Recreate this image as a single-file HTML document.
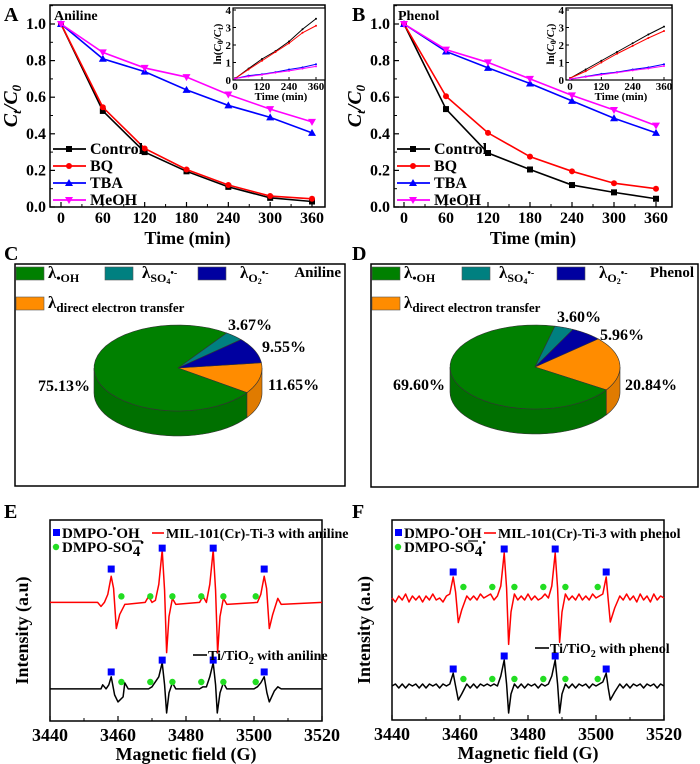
<!DOCTYPE html>
<html><head><meta charset="utf-8"><style>
html,body{margin:0;padding:0;background:#fff}
svg{display:block;font-family:"Liberation Serif",serif;font-weight:bold}
</style></head><body>
<svg id="fig" width="700" height="764" viewBox="0 0 700 764" xmlns="http://www.w3.org/2000/svg">
<g font-size="20">
<text x="4" y="21">A</text>
<text x="352" y="21">B</text>
<text x="4" y="260">C</text>
<text x="352" y="260">D</text>
<text x="4" y="518">E</text>
<text x="352" y="518">F</text>
</g>
</svg>
<script>
// ---------- data ----------
const times = [0,60,120,180,240,300,360];
const timeTicks = [0,60,120,180,240,300,360];
const ctTicks = [0,0.2,0.4,0.6,0.8,1.0];
const insetTimeTicks = [0,120,240,360];
const insetYTicks = [0,1,2,3,4];
const seriesNames = ["Control","BQ","TBA","MeOH"];
const aControl = [1,0.525,0.30,0.195,0.11,0.05,0.03];
const aBQ = [1,0.545,0.32,0.205,0.12,0.06,0.045];
const aTBA = [1,0.81,0.74,0.64,0.555,0.49,0.405];
const aMeOH = [1,0.845,0.76,0.71,0.615,0.535,0.465];
const bControl = [1,0.535,0.295,0.205,0.12,0.08,0.045];
const bBQ = [1,0.605,0.405,0.275,0.195,0.13,0.10];
const bTBA = [1,0.85,0.76,0.675,0.58,0.485,0.405];
const bMeOH = [1,0.86,0.79,0.70,0.61,0.53,0.445];
const aLnControl = [0.08,0.65,1.2,1.65,2.2,2.9,3.5];
const aLnBQ = [0.08,0.6,1.1,1.6,2.1,2.7,3.1];
const aLnTBA = [0.08,0.25,0.33,0.45,0.6,0.72,0.9];
const aLnMeOH = [0.08,0.2,0.3,0.42,0.52,0.65,0.78];
const bLnControl = [0.1,0.6,1.1,1.6,2.1,2.6,3.05];
const bLnBQ = [0.1,0.5,1.0,1.5,1.95,2.4,2.8];
const bLnTBA = [0.05,0.2,0.35,0.45,0.6,0.72,0.9];
const bLnMeOH = [0.05,0.18,0.3,0.42,0.55,0.66,0.8];
const pieLabels = ["direct electron transfer","OH","SO4","O2"];
const pieC = [11.65,75.13,3.67,9.55];
const pieD = [20.84,69.60,3.60,5.96];
const fieldTicks = [3440,3460,3480,3500,3520];
const fieldMinor = [3450,3470,3490,3510];
const eRedF = [3440,3454,3455,3456,3457,3458,3458.7,3459.5,3460.5,3462,3468,3469,3470,3471,3472,3473,3473.7,3474.3,3475,3476,3477,3484,3485,3486,3487,3488,3488.7,3489.3,3490,3491,3492,3501,3502,3503,3503.7,3504.5,3505.5,3507,3508,3520];
const eRedI = [59,59,57,59,63,72,66,46,53,58,59,62,59,60,68,85,65,34,52,61,58,59,62,59,68,85,65,34,52,61,58,59,63,72,66,46,53,61,58,59];
const eBlkF = [3440,3455,3455.5,3456.5,3457.3,3458,3459,3460,3461.5,3462,3463,3469,3470,3472,3473,3473.7,3474.3,3475,3476,3477,3484,3485,3486,3487,3488,3488.7,3489.2,3490,3491,3492,3500,3501,3502,3503,3503.8,3504.5,3506,3507,3508,3520];
const eBlkI = [16,16,18,16,18,22,13,9.5,12,19,16,16,17,22,29,18,4,14,19,16,16,17,17,22,29,18,4,14,19,16,16,17,19,22,14,9.5,15,17,16,16];
const fRedF = [3440,3441,3442,3443,3444,3445,3446,3447,3448,3449,3450,3451,3452,3453,3454,3455,3456,3457,3458,3458.7,3459.5,3460.5,3462,3463,3464,3465,3466,3467,3468,3469,3470,3471,3472,3473,3473.7,3474.3,3475,3476,3477,3478,3479,3480,3481,3482,3483,3484,3485,3486,3487,3488,3488.7,3489.3,3490,3491,3492,3493,3494,3495,3496,3497,3498,3499,3500,3501,3502,3503,3503.6,3504.2,3505.5,3507,3508,3509,3510,3511,3512,3513,3514,3515,3516,3517,3518,3519,3520];
const fRedI = [61,59,62,60,63,59,62,60,62,59,62,60,63,60,61,59,62,63,71.5,64,48.7,55,62,60,62,60,63,61,62,63,60,62,67,83.5,66,37.8,54,63,60,62,60,63,60,62,60,61,63,61,67,83.5,66,38.8,54,63,60,62,60,63,60,62,60,63,61,62,63,71.5,60,49,56,62,60,63,60,62,59,63,60,62,59,63,60,62,61];
const fBlkF = [3440,3441,3442,3443,3444,3445,3446,3447,3448,3449,3450,3451,3452,3453,3454,3455,3456,3457,3458,3458.7,3459.5,3460.5,3462,3463,3464,3465,3466,3467,3468,3469,3470,3471,3472,3473,3473.7,3474.3,3475,3476,3477,3478,3479,3480,3481,3482,3483,3484,3485,3486,3487,3488,3488.7,3489.3,3490,3491,3492,3493,3494,3495,3496,3497,3498,3499,3500,3501,3502,3503,3503.6,3504.2,3505.5,3507,3508,3509,3510,3511,3512,3513,3514,3515,3516,3517,3518,3519,3520];
const fBlkI = [17,18,16,18,16,18,17,18,16,18,16,18,17,18,16,18,17,18,23.4,17,10,13,18,16,18,16,18,17,18,17,18,17,22,30,18,3.5,13,18,16,18,16,18,17,18,16,18,17,18,22,30,18,3.5,13,18,16,18,16,18,17,18,16,18,17,18,19,23.4,16,10,14,18,16,18,16,18,17,18,16,18,17,18,16,18,17];
const oHField = [3458,3473,3488,3503];
const so4Field = [3461,3469.5,3476,3484.5,3491,3500.5];
const eRedSqI = [75.6,86,86,75.6];
const eBlkSqI = [24.4,30.3,30.3,24.4];
const eRedCirI = 62, eBlkCirI = 19.4;
const fRedSqI = [74,85.5,85.5,74];
const fBlkSqI = [25.5,32,32,25.5];
const fRedCirI = 66.5, fBlkCirI = 20.5;

// ---------- helpers ----------
const NS="http://www.w3.org/2000/svg";
const svg=document.getElementById('fig');
function mk(tag,attrs,parent){const e=document.createElementNS(NS,tag);for(const k in attrs)e.setAttribute(k,attrs[k]);(parent||svg).appendChild(e);return e;}
function lin(d0,d1,r0,r1){return v=>r0+(v-d0)*(r1-r0)/(d1-d0);}
function grp(name){const g=mk('g',{});return g;}
function txt(p,x,y,s,size,anchor,name){const t=mk('text',{x:x,y:y,'font-size':size,'text-anchor':anchor||'start'},p);t.textContent=s;return t;}
const colors={Control:'#000',BQ:'#f00',TBA:'#00f',MeOH:'#f0f'};
function marker(p,kind,x,y,c,s){
  let e;
  if(kind==='Control') e=mk('rect',{x:x-s,y:y-s,width:2*s,height:2*s,fill:c},p);
  else if(kind==='BQ') e=mk('circle',{cx:x,cy:y,r:s,fill:c},p);
  else if(kind==='TBA') e=mk('polygon',{points:`${x},${y-s-1} ${x-s-1},${y+s} ${x+s+1},${y+s}`,fill:c},p);
  else e=mk('polygon',{points:`${x},${y+s+1} ${x-s-1},${y-s} ${x+s+1},${y-s}`,fill:c},p);
  
  
}

// ---------- line panels ----------
function linePanel(id,box,x0,x360,yTop,yZero,series,inset,lnSeries,label){
  const g=grp('panel-'+id);
  const X=lin(0,360,x0,x360), Y=lin(0,1,yZero,yTop);
  const f=mk('rect',{x:box[0],y:box[1],width:box[2]-box[0],height:box[3]-box[1],fill:'none',stroke:'#000','stroke-width':1.5},g);
  
  timeTicks.forEach(t=>{mk('line',{x1:X(t),x2:X(t),y1:box[3],y2:box[3]-5,stroke:'#000','stroke-width':1.2},g);
    txt(g,X(t),box[3]+16,String(t),16,'middle','x-tick-label');});
  for(let t=30;t<360;t+=60) mk('line',{x1:X(t),x2:X(t),y1:box[3],y2:box[3]-3,stroke:'#000'},g);
  ctTicks.forEach(v=>{mk('line',{x1:box[0],x2:box[0]+5,y1:Y(v),y2:Y(v),stroke:'#000','stroke-width':1.2},g);
    txt(g,box[0]-4,Y(v)+5,v.toFixed(1),16,'end','y-tick-label');});
  for(let v=0.1;v<1.1;v+=0.2) mk('line',{x1:box[0],x2:box[0]+3,y1:Y(v),y2:Y(v),stroke:'#000'},g);
  txt(g,(box[0]+box[2])/2,box[3]+37,'Time (min)',18,'middle','x-axis-title');
  const yt=mk('text',{x:0,y:0,'font-size':20,'font-style':'italic','text-anchor':'middle',transform:`translate(${box[0]-33},${(box[1]+box[3])/2}) rotate(-90)`},g);
  
  yt.innerHTML='C<tspan font-size="13" dy="4">t</tspan><tspan dy="-4">/C</tspan><tspan font-size="13" dy="4">0</tspan>';
  txt(g,box[0]+4,box[1]+15,label,14,'start','pollutant-label');
  seriesNames.forEach((n,i)=>{
    const d=series[i];
    const pl=mk('polyline',{points:d.map((v,j)=>X(times[j])+','+Y(v)).join(' '),fill:'none',stroke:colors[n],'stroke-width':1.6},g);
    
    d.forEach((v,j)=>marker(g,n,X(times[j]),Y(v),colors[n],3));
  });
  const lg=grp('legend');g.appendChild(lg);
  seriesNames.forEach((n,i)=>{
    const ly=149+i*17;
    mk('line',{x1:box[0]+3,x2:box[0]+36,y1:ly,y2:ly,stroke:colors[n],'stroke-width':1.8},lg);
    marker(lg,n,box[0]+19,ly,colors[n],3);
    txt(lg,box[0]+40,ly+5,n,16,'start','legend-entry');
  });
  const ig=grp('inset');g.appendChild(ig);
  const IX=lin(0,360,inset.x0,inset.x360), IY=lin(0,4,inset.b[3],inset.b[1]+2);
  mk('rect',{x:inset.b[0],y:inset.b[1],width:inset.b[2]-inset.b[0],height:inset.b[3]-inset.b[1],fill:'#fff',stroke:'#000','stroke-width':1.2},ig);
  insetTimeTicks.forEach(t=>{mk('line',{x1:IX(t),x2:IX(t),y1:inset.b[3],y2:inset.b[3]-3,stroke:'#000'},ig);
    txt(ig,IX(t),inset.b[3]+10,String(t),11,'middle','inset-x-tick-label');});
  insetYTicks.forEach(v=>{mk('line',{x1:inset.b[0],x2:inset.b[0]+3,y1:IY(v),y2:IY(v),stroke:'#000'},ig);
    txt(ig,inset.b[0]-2,IY(v)+4,String(v),11,'end','inset-y-tick-label');});
  txt(ig,(inset.b[0]+inset.b[2])/2+2,inset.b[3]+20,'Time (min)',11,'middle','inset-x-axis-title');
  const iy=mk('text',{x:0,y:0,'font-size':11,'text-anchor':'middle',transform:`translate(${inset.b[0]-12},${(inset.b[1]+inset.b[3])/2}) rotate(-90)`},ig);
  
  iy.innerHTML='ln(<tspan font-style="italic">C</tspan><tspan font-size="8" dy="2">0</tspan><tspan dy="-2">/</tspan><tspan font-style="italic">C</tspan><tspan font-size="8" dy="2">t</tspan><tspan dy="-2">)</tspan>';
  seriesNames.forEach((n,i)=>{
    const d=lnSeries[i];
    const pl=mk('polyline',{points:d.map((v,j)=>IX(times[j])+','+IY(v)).join(' '),fill:'none',stroke:colors[n],'stroke-width':1},ig);
    
    d.forEach((v,j)=>{const c=mk('circle',{cx:IX(times[j]),cy:IY(v),r:1,fill:colors[n]},ig);
      });
  });
}
linePanel('a',[50,5,325,207],61,312,24,207,[aControl,aBQ,aTBA,aMeOH],{b:[233,8,325,80],x0:235,x360:316},[aLnControl,aLnBQ,aLnTBA,aLnMeOH],'Aniline');
linePanel('b',[394,5,672,207],404,656,24,207,[bControl,bBQ,bTBA,bMeOH],{b:[566,8,672,80],x0:570,x360:664},[bLnControl,bLnBQ,bLnTBA,bLnMeOH],'Phenol');

// ---------- pies ----------
const pieColors=['#ff8c00','#008000','#008080','#0000a0'];
const pieSide=['#e07b00','#007000','#006e6e','#000090'];
function piePanel(id,box,cx,cy,rx,ry,depth,vals,startDeg,label,lab){
  const g=grp('panel-'+id);
  const f=mk('rect',{x:box[0],y:box[1],width:box[2]-box[0],height:box[3]-box[1],fill:'none',stroke:'#000','stroke-width':1.5},g);
  
  const P=(a,dy)=>[cx+rx*Math.cos(a*Math.PI/180),cy+(dy||0)+ry*Math.sin(a*Math.PI/180)];
  const tot=vals.reduce((a,b)=>a+b,0);
  let a=startDeg; const seg=[];
  vals.forEach(v=>{const b=a+v/tot*360;seg.push([a,b]);a=b;});
  seg.forEach(([a0,a1],i)=>{
    for(let k=-1;k<=1;k++){
      const lo=Math.max(a0,0+360*k), hi=Math.min(a1,180+360*k);
      if(hi<=lo) continue;
      let pts=[];for(let t=lo;t<=hi+0.001;t+=(hi-lo)/30) pts.push(P(t));
      let back=[];for(let t=hi;t>=lo-0.001;t-=(hi-lo)/30) back.push(P(t,depth));
      const p=mk('polygon',{points:pts.concat(back).map(q=>q.join(',')).join(' '),fill:pieSide[i],stroke:'#333','stroke-width':0.6},g);
      
    }
  });
  seg.forEach(([a0,a1],i)=>{
    let pts=[[cx,cy]];for(let t=a0;t<=a1+0.001;t+=(a1-a0)/40) pts.push(P(t));
    const p=mk('polygon',{points:pts.map(q=>q.join(',')).join(' '),fill:pieColors[i],stroke:'#333','stroke-width':0.6},g);
    
  });
  const lg=grp('pie-legend');g.appendChild(lg);
  const x0=box[0];
  const items=[[x0+1,267,'#008000',x0+33],[lab.tx,267,'#008080',lab.tx+37],[lab.bx,267,'#0000a0',lab.bx+42],[x0+1,297,'#ff8c00',x0+33]];
  items.forEach((it,i)=>{
    const r=mk('rect',{x:it[0],y:it[1],width:28,height:13,fill:it[2],stroke:'#555','stroke-width':0.6},lg);
    
    const t=mk('text',{x:it[3],y:it[1]+11,'font-size':17},lg);
    
    if(i===0) t.innerHTML='λ<tspan font-size="12" dy="4">•OH</tspan>';
    else if(i===1) t.innerHTML='λ<tspan font-size="12" dy="4">SO</tspan><tspan font-size="8" dy="2">4</tspan><tspan font-size="10" dy="-8">•-</tspan>';
    else if(i===2) t.innerHTML='λ<tspan font-size="12" dy="4">O</tspan><tspan font-size="8" dy="2">2</tspan><tspan font-size="10" dy="-8">•-</tspan>';
    else t.innerHTML='λ<tspan font-size="13" dy="4">direct electron transfer</tspan>';
  });
  txt(lg,box[2]-4,277,label,15,'end','pollutant-label');
  lab.pos.forEach((p,i)=>txt(g,p[0],p[1],vals[i].toFixed(2)+'%',16,'start','pie-value-label'));
}
piePanel('c',[15,264,345,486],178,368,84,43,25,pieC,-7,'Aniline',{tx:105,bx:198,pos:[[268,390],[38,391],[228,330],[262,352]]});
piePanel('d',[371,264,698,487],535,367,85,42,25,pieD,-42,'Phenol',{tx:462,bx:557,pos:[[625,390],[393,390],[557,322],[600,340]]});

// ---------- ESR ----------
function esrPanel(id,box,red,blk,redSq,blkSq,redCir,blkCir,leg){
  const g=grp('panel-'+id);
  const X=lin(3440,3520,box[0],box[2]), Y=lin(0,100,box[3],box[1]);
  const f=mk('rect',{x:box[0],y:box[1],width:box[2]-box[0],height:box[3]-box[1],fill:'none',stroke:'#000','stroke-width':1.5},g);
  
  fieldTicks.forEach(t=>{mk('line',{x1:X(t),x2:X(t),y1:box[3],y2:box[3]-5,stroke:'#000','stroke-width':1.2},g);
    txt(g,X(t),box[3]+20,String(t),18,'middle','x-tick-label');});
  fieldMinor.forEach(t=>mk('line',{x1:X(t),x2:X(t),y1:box[3],y2:box[3]-3,stroke:'#000'},g));
  txt(g,(box[0]+box[2])/2,box[3]+39,'Magnetic field (G)',18,'middle','x-axis-title');
  const yt=mk('text',{x:0,y:0,'font-size':18,'text-anchor':'middle',transform:`translate(${box[0]-22},${(box[1]+box[3])/2+10}) rotate(-90)`},g);
  yt.textContent='Intensity (a.u)';
  [[red,'#f00','spectrum-mil101'],[blk,'#000','spectrum-ti-tio2']].forEach(([d,c,n])=>{
    const pl=mk('polyline',{points:d[0].map((v,j)=>X(v)+','+Y(d[1][j])).join(' '),fill:'none',stroke:c,'stroke-width':1.5,'stroke-linejoin':'round'},g);
    
  });
  [[redSq,redCir],[blkSq,blkCir]].forEach(([sq,ci])=>{
    oHField.forEach((fv,i)=>{const r=mk('rect',{x:X(fv)-3.5,y:Y(sq[i])-3.5,width:7,height:7,fill:'#0000ff'},g);
      });
    so4Field.forEach(fv=>{const c=mk('circle',{cx:X(fv),cy:Y(ci),r:3.2,fill:'#22dd22'},g);
      });
  });
  const lg=grp('legend');g.appendChild(lg);
  const s=mk('rect',{x:box[0]+3,y:529,width:7,height:7,fill:'#0000ff'},lg);
  const t1=mk('text',{x:box[0]+12,y:538,'font-size':15},lg);t1.innerHTML='DMPO-<tspan font-size="10" dy="-6">•</tspan><tspan dy="6">OH</tspan>';
  
  const c=mk('circle',{cx:box[0]+6,cy:547,r:3.2,fill:'#22dd22'},lg);
  const t2=mk('text',{x:box[0]+12,y:552,'font-size':15},lg);t2.innerHTML='DMPO-SO<tspan dy="4">4</tspan><tspan font-size="10" dy="-10">•</tspan>';
  
  mk('line',{x1:leg.kx-10,x2:leg.kx,y1:541,y2:541,stroke:'#000','stroke-width':1.2},lg);
  mk('line',{x1:leg.rx,x2:leg.rx+12,y1:533,y2:533,stroke:'#f00','stroke-width':1.6},lg);
  txt(lg,leg.rx+14,538,leg.rt,14,'start','legend-entry');
  mk('line',{x1:leg.bx,x2:leg.bx+14,y1:leg.by,y2:leg.by,stroke:'#000','stroke-width':1.6},lg);
  const t3=mk('text',{x:leg.bx+15,y:leg.by+5,'font-size':14},lg);
  t3.innerHTML='Ti/TiO<tspan font-size="10" dy="4">2</tspan><tspan dy="-4"> with '+leg.p+'</tspan>';
  
}
esrPanel('e',[50,520,322,721],[eRedF,eRedI],[eBlkF,eBlkI],eRedSqI,eBlkSqI,eRedCirI,eBlkCirI,{kx:142,rx:152,rt:'MIL-101(Cr)-Ti-3 with aniline',bx:193,by:655,p:'aniline'});
esrPanel('f',[392,520,664,720],[fRedF,fRedI],[fBlkF,fBlkI],fRedSqI,fBlkSqI,fRedCirI,fBlkCirI,{kx:478,rx:484,rt:'MIL-101(Cr)-Ti-3 with phenol',bx:535,by:648,p:'phenol'});
</script>
</body></html>
